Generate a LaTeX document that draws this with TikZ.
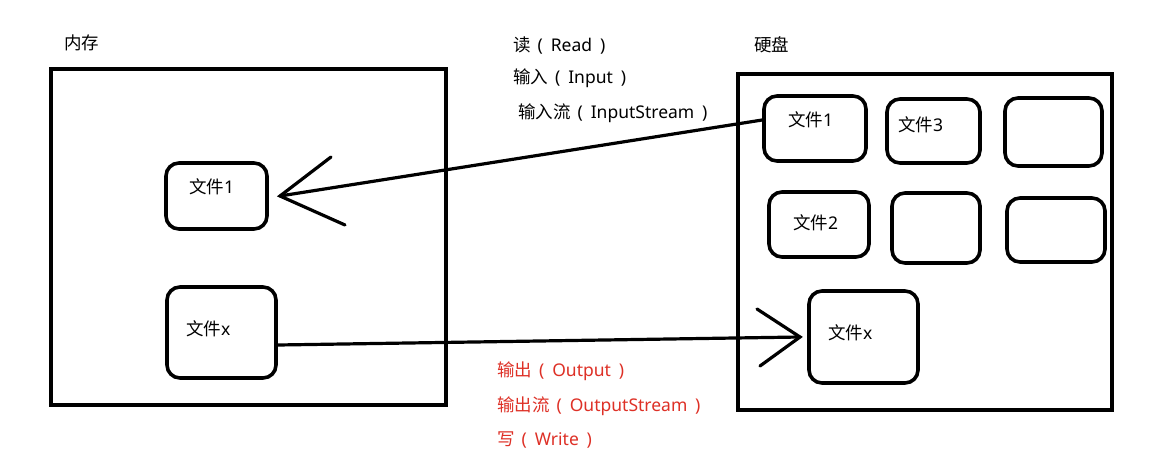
\documentclass[tikz,border=0pt]{standalone}
\usepackage{fontspec}
\setmainfont{Noto Sans}
\newfontfamily\cjk{Noto Sans CJK SC}
\newcommand{\pp}[1]{\hspace{0.4em}(\hspace{0.45em}#1\hspace{0.45em})}
\begin{document}
\begin{tikzpicture}[x=1pt,y=-1pt,
  frame/.style={draw,line width=3.8pt},
  filebox/.style={draw,line width=3.6pt,rounded corners=13pt},
  lbl/.style={font=\fontsize{17.5}{20}\selectfont,inner sep=0pt,anchor=west},
  redlbl/.style={lbl,text=redtxt},
  conn/.style={line width=3.2pt,line cap=round},
]
\definecolor{redtxt}{RGB}{222,48,38}
\useasboundingbox[fill=white] (0,0) rectangle (1155,471);

% frames
\draw[frame] (51,69) rectangle (446,405);
\draw[frame] (738,74) rectangle (1112,410);
\node[lbl] (memlbl) at (64,43) {\cjk 内存};
\node[lbl] (disklbl) at (754,45) {\cjk 硬盘};

% memory files
\node[filebox,minimum width=101pt,minimum height=66pt] (mf1) at (216.5,196) {};
\node[lbl] (mf1t) at (189,187) {{\cjk 文件}1};
\node[filebox,minimum width=109pt,minimum height=91pt] (mfx) at (221.5,332.5) {};
\node[lbl] (mfxt) at (186,329) {{\cjk 文件}x};

% disk files
\node[filebox,minimum width=102pt,minimum height=65pt] (df1) at (815,128.5) {};
\node[lbl] (df1t) at (788,120) {{\cjk 文件}1};
\node[filebox,minimum width=93pt,minimum height=64pt] (df3) at (933.5,131) {};
\node[lbl] (df3t) at (898,125) {{\cjk 文件}3};
\node[filebox,minimum width=97pt,minimum height=68pt] (de1) at (1053.5,132) {};
\node[filebox,minimum width=100pt,minimum height=65pt] (df2) at (819,224.5) {};
\node[lbl] (df2t) at (793,223) {{\cjk 文件}2};
\node[filebox,minimum width=88pt,minimum height=70pt] (de2) at (936,228) {};
\node[filebox,minimum width=98pt,minimum height=64pt] (de3) at (1056,230) {};
\node[filebox,minimum width=109pt,minimum height=92pt] (dfx) at (863.5,337) {};
\node[lbl] (dfxt) at (828,333) {{\cjk 文件}x};

% read arrow
\coordinate (rtip) at (280,196);
\coordinate (ra1) at (331,157);
\coordinate (ra2) at (345,225);
\draw[conn] (df1.west |- 0,120) -- (rtip);
\draw[conn] (ra1) -- (rtip) -- (ra2);

% write arrow
\coordinate (wtip) at (800,337);
\coordinate (wa1) at (757,309);
\coordinate (wa2) at (760,366);
\draw[conn] (mfx.east |- 0,345) -- (wtip);
\draw[conn] (wa1) -- (wtip) -- (wa2);

% labels
\node[lbl] (rd) at (513,46) {{\cjk 读}\pp{Read}};
\node[lbl] (inp) at (513,78) {{\cjk 输入}\pp{Input}};
\node[lbl] (ins) at (518,113) {{\cjk 输入流}\pp{InputStream}};
\node[redlbl] (out) at (497,371) {{\cjk 输出}\pp{Output}};
\node[redlbl] (outs) at (497,406) {{\cjk 输出流}\pp{OutputStream}};
\node[redlbl] (wr) at (497,440) {{\cjk 写}\pp{Write}};
\end{tikzpicture}
\end{document}
